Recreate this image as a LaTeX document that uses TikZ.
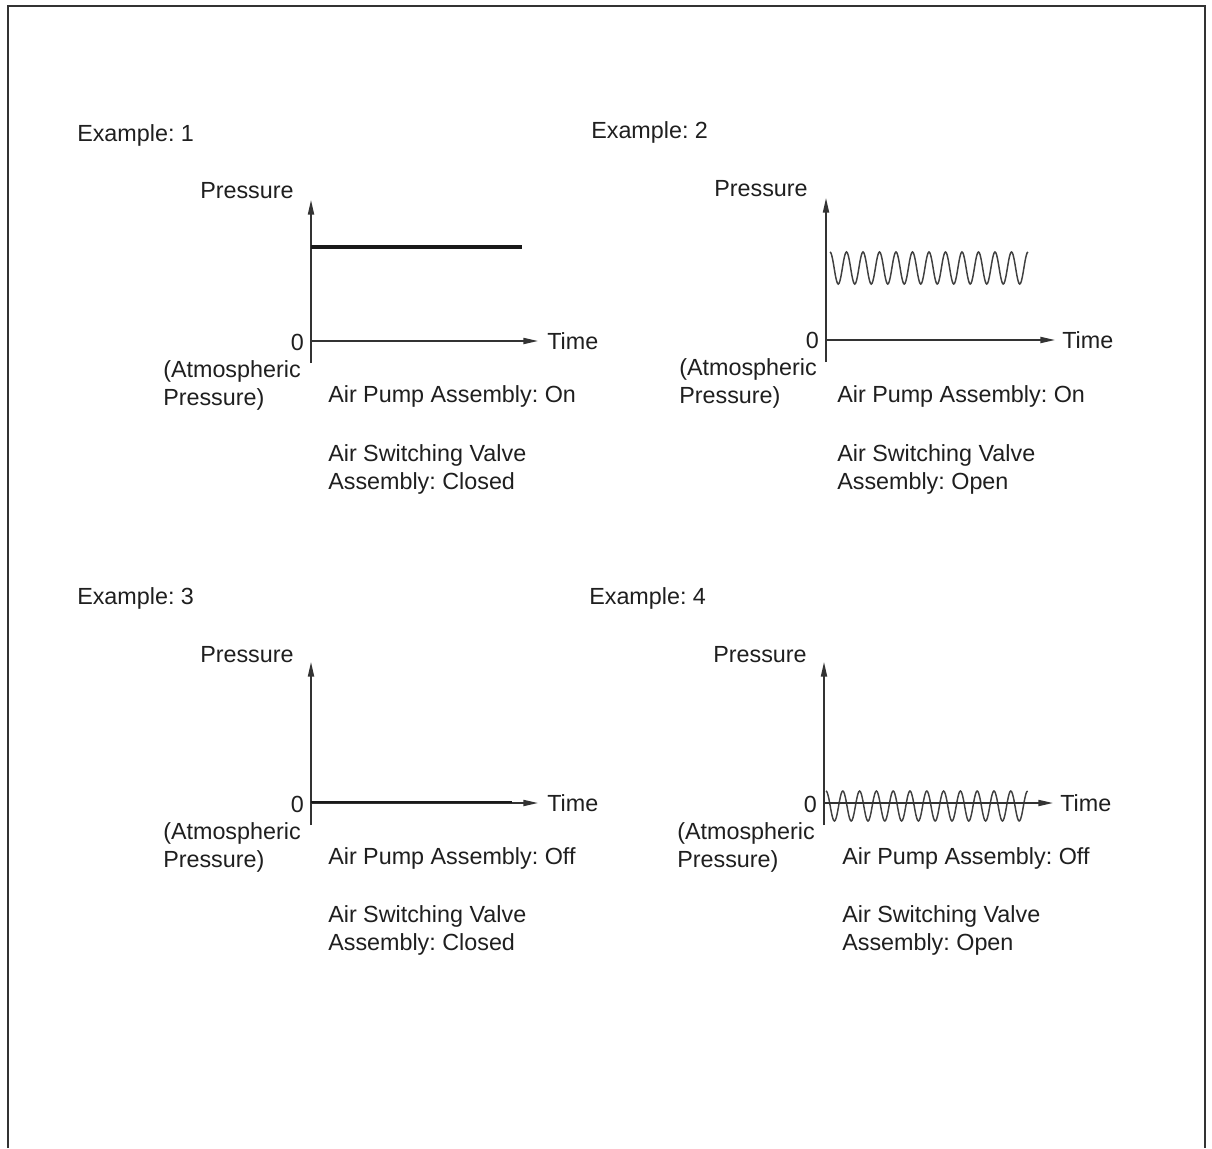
\documentclass[tikz,border=0pt]{standalone}
\usepackage{fontspec}
\setmainfont{Liberation Sans}
\usetikzlibrary{arrows.meta}
\frenchspacing

\begin{document}
\begin{tikzpicture}[x=0.75pt,y=0.75pt,yscale=-1,xscale=1,
    lbl/.style={inner sep=0pt,text=black!88,font=\fontsize{17.5}{21}\selectfont},
    blk/.style={lbl,align=left,anchor=west},
    axis/.style={line width=1.1pt,draw=black!80},
    taxis/.style={axis,-{Triangle[length=11pt,width=4.6pt]}},
    level/.style={line width=3pt,draw=black!90},
    wave/.style={line width=1.1pt,draw=black!75}]
			\useasboundingbox (0,0) rectangle (1212,1148);
			\fill[white] (0,0) rectangle (1212,1148);
			% outer frame
			\draw[line width=1.6pt,draw=black!80] (8,1148) -- (8,6) -- (1205,6) -- (1205,1148);
			% Example 1
			\draw (77,142) node [lbl,anchor=base west] (ex1) {Example: 1};
			\draw (200,199) node [lbl,anchor=base west] (p1) {Pressure};
			\draw[taxis] (311,363) -- (311,200) ;
			\draw[taxis] (311,341) -- (538,341) ;
			\draw[level] (311,247) -- (522,247) ;
			\draw (304,350) node [lbl,anchor=base east] (z1) {0};
			\draw (547,349) node [lbl,anchor=base west] (t1) {Time};
			\draw (163,385) node [blk] (a1) {(Atmospheric\\Pressure)};
			\draw (328,402) node [lbl,anchor=base west] (pump1) {Air Pump Assembly: On};
			\draw (328,469) node [blk] (valve1) {Air Switching Valve\\Assembly: Closed};
			% Example 2
			\draw (591,139) node [lbl,anchor=base west] (ex2) {Example: 2};
			\draw (714,197) node [lbl,anchor=base west] (p2) {Pressure};
			\draw[taxis] (826,362) -- (826,198) ;
			\draw[taxis] (826,340) -- (1055,340) ;
			\draw[wave] plot[domain=0:12,samples=241,smooth] ({830+\x*16.5},{268-16*cos(360*\x)}) ;
			\draw (819,348) node [lbl,anchor=base east] (z2) {0};
			\draw (1062,348) node [lbl,anchor=base west] (t2) {Time};
			\draw (679,383) node [blk] (a2) {(Atmospheric\\Pressure)};
			\draw (837,402) node [lbl,anchor=base west] (pump2) {Air Pump Assembly: On};
			\draw (837,469) node [blk] (valve2) {Air Switching Valve\\Assembly: Open};
			% Example 3
			\draw (77,604) node [lbl,anchor=base west] (ex3) {Example: 3};
			\draw (200,662) node [lbl,anchor=base west] (p3) {Pressure};
			\draw[taxis] (311,825) -- (311,662) ;
			\draw[taxis] (311,803) -- (538,803) ;
			\draw[line width=2.2pt,draw=black!90] (311,802) -- (512,802) ;
			\draw (304,812) node [lbl,anchor=base east] (z3) {0};
			\draw (547,811) node [lbl,anchor=base west] (t3) {Time};
			\draw (163,847) node [blk] (a3) {(Atmospheric\\Pressure)};
			\draw (328,864) node [lbl,anchor=base west] (pump3) {Air Pump Assembly: Off};
			\draw (328,930) node [blk] (valve3) {Air Switching Valve\\Assembly: Closed};
			% Example 4
			\draw (589,604) node [lbl,anchor=base west] (ex4) {Example: 4};
			\draw (713,662) node [lbl,anchor=base west] (p4) {Pressure};
			\draw[taxis] (824,825) -- (824,662) ;
			\draw[wave] plot[domain=0:12,samples=241,smooth] ({826+\x*16.8},{806-15*cos(360*\x)}) ;
			\draw[taxis] (824,803) -- (1053,803) ;
			\draw (817,812) node [lbl,anchor=base east] (z4) {0};
			\draw (1060,811) node [lbl,anchor=base west] (t4) {Time};
			\draw (677,847) node [blk] (a4) {(Atmospheric\\Pressure)};
			\draw (842,864) node [lbl,anchor=base west] (pump4) {Air Pump Assembly: Off};
			\draw (842,930) node [blk] (valve4) {Air Switching Valve\\Assembly: Open};
\end{tikzpicture}
\end{document}
